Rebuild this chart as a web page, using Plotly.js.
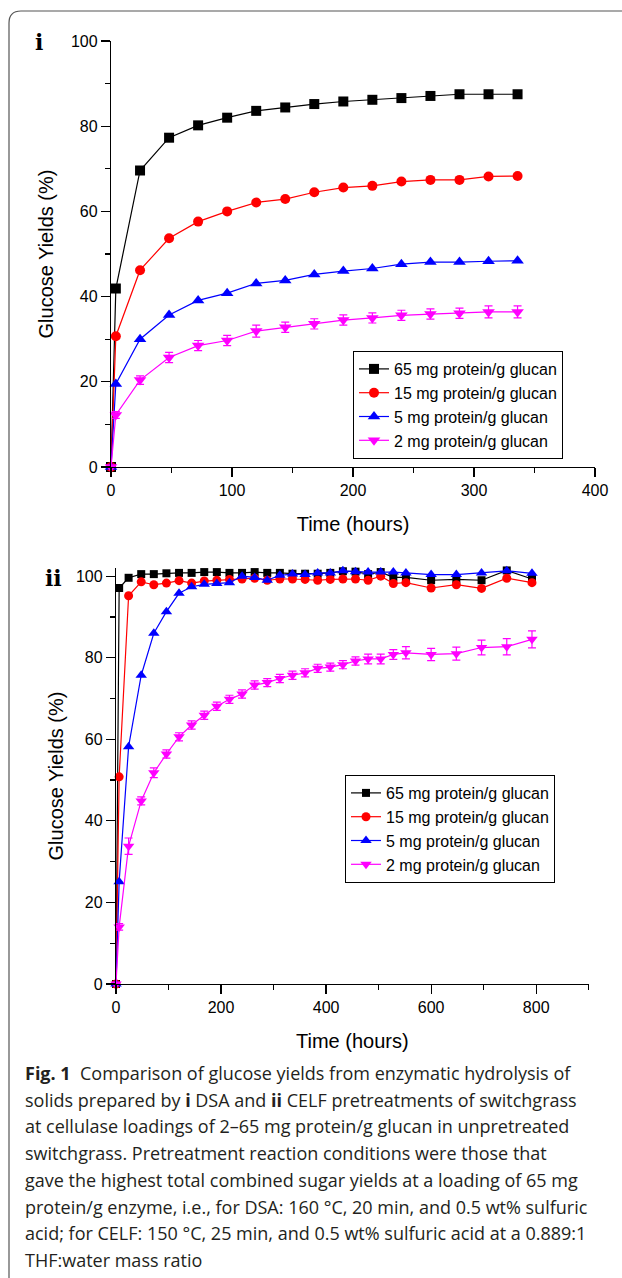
<!DOCTYPE html>
<html>
<head>
<meta charset="utf-8">
<script src="https://cdn.plot.ly/plotly-3.0.1.min.js"></script>
<style>
html,body{margin:0;padding:0;background:#fff;}
#chart{width:622px;height:1278px;}
</style>
</head>
<body>
<div id="chart"></div>
<script>
// ---------- Data ----------
const seriesNames = ['65 mg protein/g glucan','15 mg protein/g glucan','5 mg protein/g glucan','2 mg protein/g glucan'];

// Panel i (DSA)
const timeI = [0,4,24,48,72,96,120,144,168,192,216,240,264,288,312,336];
const dsa65 = [0,41.9,69.6,77.3,80.2,82.0,83.6,84.4,85.2,85.8,86.2,86.6,87.1,87.5,87.5,87.5];
const dsa15 = [0,30.7,46.2,53.7,57.6,60.0,62.1,62.9,64.5,65.6,66.0,67.0,67.4,67.4,68.2,68.3];
const dsa5  = [0,19.5,30.0,35.7,39.1,40.8,43.1,43.8,45.2,46.0,46.6,47.6,48.1,48.1,48.3,48.4];
const dsa2  = [0,12.2,20.4,25.7,28.5,29.7,31.9,32.8,33.6,34.5,35.0,35.6,35.9,36.1,36.4,36.4];
const dsa2Err = [0,0.8,1.0,1.2,1.2,1.2,1.4,1.2,1.2,1.2,1.2,1.2,1.2,1.2,1.4,1.4];

// Panel ii (CELF)
const timeII = [0,6,24,48,72,96,120,144,168,192,216,240,264,288,312,336,360,384,408,432,456,480,504,528,552,600,648,696,744,792];
const celf65 = [0,97.1,99.6,100.5,100.5,100.7,100.8,100.8,101.0,101.0,100.8,100.8,101.0,100.8,100.8,100.6,100.6,100.6,100.8,101.2,101.1,100.5,101.0,99.7,99.7,99.0,99.2,99.0,101.4,99.3];
const celf15 = [0,50.8,95.2,98.6,97.9,98.3,98.9,98.3,98.8,99.0,99.2,99.3,99.5,99.0,99.3,99.3,99.2,99.0,99.2,99.3,99.3,99.0,100.0,98.2,98.4,97.1,97.9,97.0,99.5,98.4];
const celf5  = [0,25.1,58.2,75.7,86.0,91.3,95.8,97.4,98.0,98.2,98.4,100.0,99.7,99.0,100.2,100.5,100.4,100.8,100.8,101.3,101.1,101.0,101.0,101.0,100.8,100.4,100.4,100.8,101.3,100.7];
const celf2  = [0,14.0,33.8,44.9,51.8,56.4,60.6,63.5,65.9,68.1,69.8,71.1,73.3,73.9,74.9,75.7,76.3,77.4,77.7,78.3,79.2,79.7,79.7,80.8,81.2,80.8,81.0,82.5,82.7,84.5];
const celf2Err = [0,0.8,2.0,1.0,1.2,1.0,1.0,1.0,1.0,1.0,1.0,1.0,1.0,1.0,1.0,1.0,1.0,1.0,1.0,1.0,1.0,1.2,1.2,1.2,1.5,1.5,1.6,1.8,2.0,2.1];

const captionLines = [
  '<b>Fig. 1</b>  Comparison of glucose yields from enzymatic hydrolysis of',
  'solids prepared by <b>i</b> DSA and <b>ii</b> CELF pretreatments of switchgrass',
  'at cellulase loadings of 2–65 mg protein/g glucan in unpretreated',
  'switchgrass. Pretreatment reaction conditions were those that',
  'gave the highest total combined sugar yields at a loading of 65 mg',
  'protein/g enzyme, i.e., for DSA: 160 °C, 20 min, and 0.5 wt% sulfuric',
  'acid; for CELF: 150 °C, 25 min, and 0.5 wt% sulfuric acid at a 0.889:1',
  'THF:water mass ratio'
];

// ---------- Styles ----------
const colors = ['#000000','#ff0000','#0000ff','#ff00ff'];
const symbols = ['square','circle','triangle-up','triangle-down'];
const sizesI = [10,10,11,11];
const sizesII = [8,9,10,10];
const W = 622, H = 1278;
const FONT = 'Liberation Sans, Arial, sans-serif';
const px2x = v => v / W;
const px2y = v => 1 - v / H;

function mk(x, y, i, xa, ya, leg, sizes, err) {
  const t = {
    x: x, y: y, type: 'scatter', mode: 'lines+markers',
    name: seriesNames[i], xaxis: xa, yaxis: ya, legend: leg,
    line: {color: colors[i], width: 1.2},
    marker: {color: colors[i], symbol: symbols[i], size: sizes[i]},
    cliponaxis: false
  };
  if (err) t.error_y = {type: 'data', array: err, visible: true, color: colors[i], thickness: 1.2, width: 4};
  return t;
}

const traces = [
  mk(timeI, dsa65, 0, 'x', 'y', 'legend', sizesI),
  mk(timeI, dsa15, 1, 'x', 'y', 'legend', sizesI),
  mk(timeI, dsa5, 2, 'x', 'y', 'legend', sizesI),
  mk(timeI, dsa2, 3, 'x', 'y', 'legend', sizesI, dsa2Err),
  mk(timeII, celf65, 0, 'x2', 'y2', 'legend2', sizesII),
  mk(timeII, celf15, 1, 'x2', 'y2', 'legend2', sizesII),
  mk(timeII, celf5, 2, 'x2', 'y2', 'legend2', sizesII),
  mk(timeII, celf2, 3, 'x2', 'y2', 'legend2', sizesII, celf2Err)
];

function axisBase(extra) {
  return Object.assign({
    showgrid: false, zeroline: false, showline: true, linecolor: '#000', linewidth: 1.2,
    ticks: 'outside', ticklen: 9, tickwidth: 1.2, tickcolor: '#000',
    tickfont: {family: FONT, size: 16, color: '#000'},
    fixedrange: true
  }, extra);
}

const legendStyle = {
  font: {family: FONT, size: 16, color: '#000'},
  bgcolor: '#fff', bordercolor: '#000', borderwidth: 1,
  xanchor: 'left', yanchor: 'top', tracegroupgap: 0, itemwidth: 30
};

const annotations = [
  {text: '<b>i</b>', x: px2x(39), y: px2y(42), xref: 'paper', yref: 'paper', showarrow: false,
   xanchor: 'center', yanchor: 'middle',
   font: {family: 'DejaVu Serif, Liberation Serif, serif', size: 22, color: '#000'}},
  {text: '<b>ii</b>', x: px2x(53), y: px2y(578), xref: 'paper', yref: 'paper', showarrow: false,
   xanchor: 'center', yanchor: 'middle',
   font: {family: 'DejaVu Serif, Liberation Serif, serif', size: 22, color: '#000'}}
];
captionLines.forEach((t, k) => {
  annotations.push({
    text: t, x: px2x(23), y: px2y(1073 + k * 26.7), xref: 'paper', yref: 'paper',
    xanchor: 'left', yanchor: 'middle', showarrow: false, align: 'left',
    font: {family: 'Open Sans, Noto Sans, sans-serif', size: 18, color: '#231f20'}
  });
});

const layout = {
  width: W, height: H,
  margin: {l: 0, r: 0, t: 0, b: 0},
  paper_bgcolor: '#fff', plot_bgcolor: '#fff',
  font: {family: FONT, color: '#000'},
  showlegend: true,
  xaxis: axisBase({domain: [px2x(111), px2x(595)], anchor: 'y', range: [0, 400], dtick: 100,
    minor: {dtick: 50, ticks: 'outside', ticklen: 5, tickwidth: 1.2, tickcolor: '#000'},
    title: {text: 'Time (hours)', font: {family: FONT, size: 20, color: '#000'}, standoff: 18}}),
  yaxis: axisBase({domain: [px2y(467), px2y(41)], anchor: 'x', range: [0, 100], dtick: 20,
    minor: {dtick: 10, ticks: 'outside', ticklen: 5, tickwidth: 1.2, tickcolor: '#000'},
    title: {text: 'Glucose Yields (%)', font: {family: FONT, size: 20, color: '#000'}, standoff: 11}}),
  xaxis2: axisBase({domain: [px2x(116), px2x(588.7)], anchor: 'y2', range: [0, 900], dtick: 200,
    minor: {dtick: 100, ticks: 'outside', ticklen: 5, tickwidth: 1.2, tickcolor: '#000'},
    title: {text: 'Time (hours)', font: {family: FONT, size: 20, color: '#000'}, standoff: 18}}),
  yaxis2: axisBase({domain: [px2y(984), px2y(568)], anchor: 'x2', range: [0, 102], dtick: 20,
    minor: {dtick: 10, ticks: 'outside', ticklen: 5, tickwidth: 1.2, tickcolor: '#000'},
    title: {text: 'Glucose Yields (%)', font: {family: FONT, size: 20, color: '#000'}, standoff: 6}}),
  legend: Object.assign({x: px2x(353), y: px2y(351)}, legendStyle),
  legend2: Object.assign({x: px2x(345), y: px2y(775)}, legendStyle),
  annotations: annotations,
  shapes: [{
    type: 'path', xref: 'paper', yref: 'paper',
    path: `M 1 ${px2y(11)} L ${px2x(21)} ${px2y(11)} Q ${px2x(9)} ${px2y(11)} ${px2x(9)} ${px2y(23)} L ${px2x(9)} 0`,
    line: {color: '#555', width: 1.2}
  }]
};

Plotly.newPlot('chart', traces, layout, {displayModeBar: false, staticPlot: true});
</script>
</body>
</html>
